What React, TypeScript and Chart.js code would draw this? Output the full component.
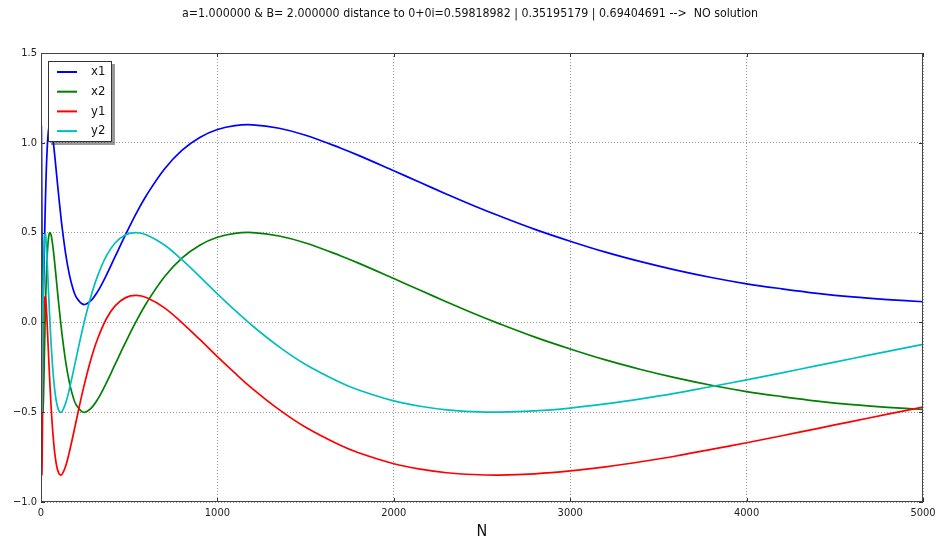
import React, { useEffect, useRef } from 'react';
import { Chart, registerables } from 'chart.js';

Chart.register(...registerables);

const TITLE =
  'a=1.000000 & B= 2.000000 distance to 0+0i=0.59818982 | 0.35195179 | 0.69404691 -->  NO solution';

const N_VALUES = [
  1, 2, 3, 4, 5, 6, 8, 10, 12, 15, 20, 25, 30, 35, 40, 45, 50, 55, 60, 70, 80, 90, 100, 110, 120,
  140, 160, 180, 200, 240, 280, 320, 370, 420, 480, 540, 600, 700, 800, 900, 1000, 1100, 1200,
  1350, 1500, 1700, 1800, 2000, 2150, 2300, 2450, 2600, 2800, 3000, 3200, 3400, 3600, 3800, 4000,
  4200, 4400, 4600, 4800, 5000,
];

const X1 = [
  0.598, 1.091, 1.006, 0.782, 0.563, 0.387, 0.175, 0.103, 0.115, 0.218, 0.454, 0.676, 0.847,
  0.967, 1.044, 1.086, 1.1, 1.094, 1.073, 1.001, 0.908, 0.807, 0.708, 0.614, 0.527, 0.38, 0.27,
  0.191, 0.14, 0.1, 0.118, 0.17, 0.262, 0.366, 0.49, 0.607, 0.711, 0.854, 0.959, 1.03, 1.074,
  1.096, 1.1, 1.081, 1.042, 0.97, 0.93, 0.844, 0.779, 0.714, 0.651, 0.592, 0.518, 0.452, 0.391,
  0.338, 0.291, 0.25, 0.215, 0.187, 0.162, 0.142, 0.127, 0.115,
];

const X2 = [
  -0.002, 0.491, 0.406, 0.182, -0.037, -0.213, -0.425, -0.497, -0.485, -0.382, -0.146, 0.076,
  0.247, 0.367, 0.444, 0.486, 0.5, 0.494, 0.473, 0.401, 0.308, 0.207, 0.108, 0.014, -0.073,
  -0.22, -0.33, -0.409, -0.46, -0.5, -0.482, -0.43, -0.338, -0.234, -0.11, 0.007, 0.111, 0.254,
  0.359, 0.43, 0.474, 0.496, 0.5, 0.481, 0.442, 0.37, 0.33, 0.244, 0.179, 0.114, 0.051, -0.008,
  -0.082, -0.148, -0.209, -0.262, -0.309, -0.35, -0.385, -0.413, -0.438, -0.458, -0.473, -0.485,
];

const Y1 = [
  0.15, -0.257, -0.642, -0.816, -0.849, -0.802, -0.615, -0.405, -0.224, -0.028, 0.128, 0.144,
  0.085, -0.01, -0.12, -0.23, -0.333, -0.428, -0.513, -0.649, -0.744, -0.805, -0.838, -0.85,
  -0.845, -0.799, -0.725, -0.638, -0.546, -0.369, -0.216, -0.094, 0.019, 0.092, 0.138, 0.15,
  0.137, 0.081, -0.002, -0.095, -0.191, -0.283, -0.37, -0.486, -0.584, -0.686, -0.726, -0.787,
  -0.817, -0.837, -0.847, -0.85, -0.843, -0.827, -0.804, -0.776, -0.744, -0.707, -0.67, -0.631,
  -0.591, -0.551, -0.511, -0.472,
];

const Y2 = [
  0.5, 0.093, -0.292, -0.466, -0.499, -0.452, -0.265, -0.055, 0.126, 0.322, 0.478, 0.494, 0.435,
  0.34, 0.23, 0.12, 0.017, -0.078, -0.163, -0.299, -0.394, -0.455, -0.488, -0.5, -0.495, -0.449,
  -0.375, -0.288, -0.196, -0.019, 0.134, 0.256, 0.369, 0.442, 0.488, 0.5, 0.487, 0.431, 0.348,
  0.255, 0.159, 0.067, -0.02, -0.136, -0.234, -0.336, -0.376, -0.437, -0.467, -0.487, -0.497,
  -0.5, -0.493, -0.477, -0.454, -0.426, -0.394, -0.357, -0.32, -0.281, -0.241, -0.201, -0.161,
  -0.122,
];

const SERIES_NAMES = ['x1', 'x2', 'y1', 'y2'];
const SERIES_VALUES = [X1, X2, Y1, Y2];
const SERIES_COLORS = ['#0000ff', '#008000', '#ff0000', '#00bfbf'];

const X_TICKS = [0, 1000, 2000, 3000, 4000, 5000];
const X_TICK_LABELS = ['0', '1000', '2000', '3000', '4000', '5000'];
const Y_TICKS = [-1.0, -0.5, 0.0, 0.5, 1.0, 1.5];
const Y_TICK_LABELS = ['\u22121.0', '\u22120.5', '0.0', '0.5', '1.0', '1.5'];
const X_AXIS_TITLE = 'N';

const FONT_FAMILY = '"DejaVu Sans Condensed", "Liberation Sans Narrow", "Liberation Sans", sans-serif';

// Frame, inward tick marks, boxed legend and the title, drawn on top of the plot.
const decorPlugin = {
  id: 'decor',
  afterDraw(chart: any) {
    const { ctx, chartArea: a, scales } = chart;
    ctx.save();

    // inward tick marks on all four sides
    ctx.strokeStyle = '#333';
    ctx.lineWidth = 1;
    ctx.beginPath();
    X_TICKS.forEach((v) => {
      const px = Math.round(scales.x.getPixelForValue(v)) + 0.5;
      ctx.moveTo(px, a.bottom);
      ctx.lineTo(px, a.bottom - 4);
      ctx.moveTo(px, a.top);
      ctx.lineTo(px, a.top + 4);
    });
    Y_TICKS.forEach((v) => {
      const py = Math.round(scales.y.getPixelForValue(v)) + 0.5;
      ctx.moveTo(a.left, py);
      ctx.lineTo(a.left + 4, py);
      ctx.moveTo(a.right, py);
      ctx.lineTo(a.right - 4, py);
    });
    ctx.stroke();

    // frame
    ctx.strokeStyle = '#444';
    ctx.strokeRect(a.left + 0.5, a.top + 0.5, a.right - a.left - 1, a.bottom - a.top - 1);

    // legend box with a drop shadow
    const lx = a.left + 7;
    const ly = a.top + 8;
    const lw = 64;
    const lh = 81;
    ctx.fillStyle = 'rgba(0,0,0,0.4)';
    ctx.fillRect(lx + 3, ly + 3, lw, lh);
    ctx.fillStyle = '#fff';
    ctx.fillRect(lx, ly, lw, lh);
    ctx.strokeStyle = '#333';
    ctx.strokeRect(lx + 0.5, ly + 0.5, lw - 1, lh - 1);

    ctx.font = `13px ${FONT_FAMILY}`;
    ctx.textBaseline = 'middle';
    ctx.textAlign = 'left';
    SERIES_NAMES.forEach((name, i) => {
      const y = ly + 11 + i * 19.7;
      ctx.strokeStyle = SERIES_COLORS[i];
      ctx.lineWidth = 2;
      ctx.beginPath();
      ctx.moveTo(lx + 9, y);
      ctx.lineTo(lx + 29, y);
      ctx.stroke();
      ctx.fillStyle = '#111';
      ctx.fillText(name, lx + 43, y);
    });

    // title
    ctx.font = `12.3px ${FONT_FAMILY}`;
    ctx.fillStyle = '#111';
    ctx.textAlign = 'center';
    ctx.textBaseline = 'middle';
    ctx.fillText(TITLE, 470, 14);

    ctx.restore();
  },
};

export default function App() {
  const canvasRef = useRef<HTMLCanvasElement | null>(null);

  useEffect(() => {
    const canvas = canvasRef.current;
    if (!canvas) return;

    // later series are drawn above earlier ones
    const datasets = SERIES_NAMES.map((name, i) => ({
      label: name,
      data: N_VALUES.map((n, k) => ({ x: n, y: SERIES_VALUES[i][k] })),
      borderColor: SERIES_COLORS[i],
      backgroundColor: SERIES_COLORS[i],
      borderWidth: 1.7,
      pointRadius: 0,
      fill: false,
      tension: 0.35,
      order: SERIES_NAMES.length - i,
    }));

    const tickFont = { family: FONT_FAMILY, size: 11 };

    const chart = new Chart(canvas, {
      type: 'line',
      data: { datasets },
      plugins: [decorPlugin],
      options: {
        animation: false,
        responsive: false,
        devicePixelRatio: 1,
        layout: { padding: { left: 0, right: 20, top: 53, bottom: 0 } },
        plugins: {
          legend: { display: false },
          title: { display: false },
          tooltip: { enabled: false },
        },
        scales: {
          x: {
            type: 'linear',
            min: 0,
            max: 5000,
            afterFit: (scale: any) => {
              scale.height = 43;
            },
            afterBuildTicks: (scale: any) => {
              scale.ticks = X_TICKS.map((v) => ({ value: v }));
            },
            ticks: {
              font: tickFont,
              color: '#222',
              padding: 5,
              maxRotation: 0,
              autoSkip: false,
              callback: (v: any) => X_TICK_LABELS[X_TICKS.indexOf(Number(v))] ?? '',
            },
            grid: { color: 'rgba(0,0,0,0.4)', lineWidth: 1, drawTicks: false },
            border: { display: false, dash: [1, 2] },
            title: {
              display: true,
              text: X_AXIS_TITLE,
              font: { family: FONT_FAMILY, size: 16 },
              color: '#111',
              padding: { top: 0, bottom: 4 },
            },
          },
          y: {
            type: 'linear',
            min: -1,
            max: 1.5,
            afterFit: (scale: any) => {
              scale.width = 41;
            },
            afterBuildTicks: (scale: any) => {
              scale.ticks = Y_TICKS.map((v) => ({ value: v }));
            },
            ticks: {
              font: tickFont,
              color: '#222',
              padding: 4,
              autoSkip: false,
              callback: (v: any) => {
                const idx = Y_TICKS.findIndex((t) => Math.abs(t - Number(v)) < 1e-9);
                return idx >= 0 ? Y_TICK_LABELS[idx] : '';
              },
            },
            grid: { color: 'rgba(0,0,0,0.4)', lineWidth: 1, drawTicks: false },
            border: { display: false, dash: [1, 2] },
          },
        },
      },
    });

    return () => chart.destroy();
  }, []);

  return (
    <div style={{ position: 'fixed', left: 0, top: 0, width: 943, height: 545, background: '#fff' }}>
      <canvas ref={canvasRef} width={943} height={545} style={{ display: 'block' }} />
    </div>
  );
}
